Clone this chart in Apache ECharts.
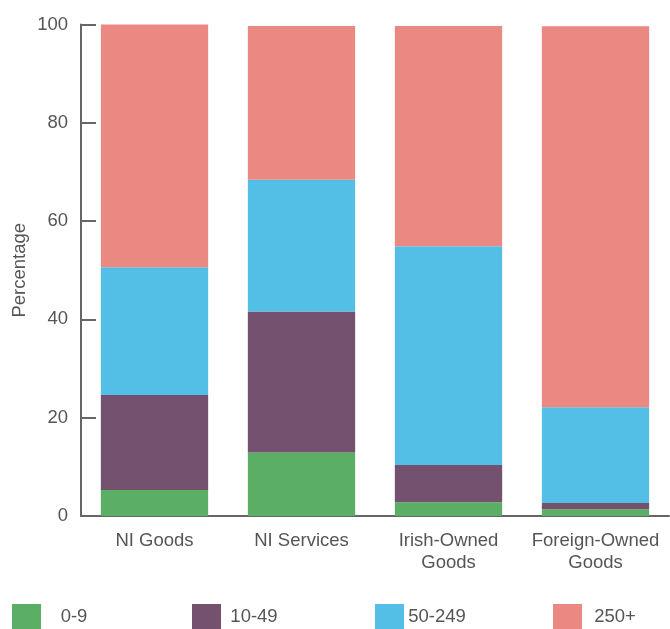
<!DOCTYPE html>
<html><head><meta charset="utf-8">
<script src="https://cdn.jsdelivr.net/npm/echarts@6/dist/echarts.min.js"></script>
<style>html,body{margin:0;padding:0;background:#fff}#c{width:670px;height:629px}</style>
</head><body><div id="c"></div>
<script>
const categories = ['NI Goods', 'NI Services', 'Irish-Owned\nGoods', 'Foreign-Owned\nGoods'];
const seriesNames = ['0-9', '10-49', '50-249', '250+'];
const s0_9 = [5.3, 12.9, 2.8, 1.35];
const s10_49 = [19.3, 28.7, 7.6, 1.3];
const s50_249 = [26.0, 26.8, 44.5, 19.5];
const s250 = [49.4, 31.3, 44.8, 77.5];
const yTicks = [0, 20, 40, 60, 80, 100];
const colors = ['#5aaf64', '#73516f', '#53bfe6', '#ea8882'];
const allData = [s0_9, s10_49, s50_249, s250];
const font = 'Liberation Sans';
const textColor = '#555';
const chart = echarts.init(document.getElementById('c'));
const legendLefts = [12, 192, 375, 553];
chart.setOption({
  animation: false,
  color: colors,
  grid: {left: 81, right: 1, top: 24.5, bottom: 113, containLabel: false, outerBoundsMode: 'none'},
  legend: seriesNames.map((n, i) => ({
    data: [n], left: legendLefts[i], top: 604, itemWidth: 29, itemHeight: 26, icon: 'rect',
    itemGap: 0, selectedMode: false, padding: 0,
    formatter: '{a|{name}}',
    textStyle: {fontFamily: font, fontSize: 18.5, color: textColor,
      rich: {a: {fontFamily: font, fontSize: 18.5, color: textColor, width: 56, align: 'center'}}}
  })),
  xAxis: {
    type: 'category', data: categories,
    axisLine: {lineStyle: {color: '#666', width: 2}},
    axisTick: {inside: true, length: 13, lineStyle: {color: '#666', width: 2}},
    axisLabel: {fontFamily: font, fontSize: 18.5, color: textColor, margin: 14, lineHeight: 22,
      interval: 0, hideOverlap: false}
  },
  yAxis: {
    type: 'value', min: 0, max: 100, interval: 20,
    name: 'Percentage', nameLocation: 'middle', nameGap: 52, nameRotate: 90, nameMoveOverlap: false,
    nameTextStyle: {fontFamily: font, fontSize: 18.5, color: textColor},
    axisLine: {show: true, lineStyle: {color: '#666', width: 2}},
    axisTick: {show: true, inside: true, length: 15, lineStyle: {color: '#666', width: 2}},
    splitLine: {show: false},
    axisLabel: {fontFamily: font, fontSize: 18.5, color: textColor, margin: 13,
      formatter: v => yTicks.includes(v) ? String(v) : ''}
  },
  series: seriesNames.map((n, i) => ({
    name: n, type: 'bar', stack: 'total', barWidth: '73%', data: allData[i],
    itemStyle: {color: colors[i]}
  }))
});
</script></body></html>
